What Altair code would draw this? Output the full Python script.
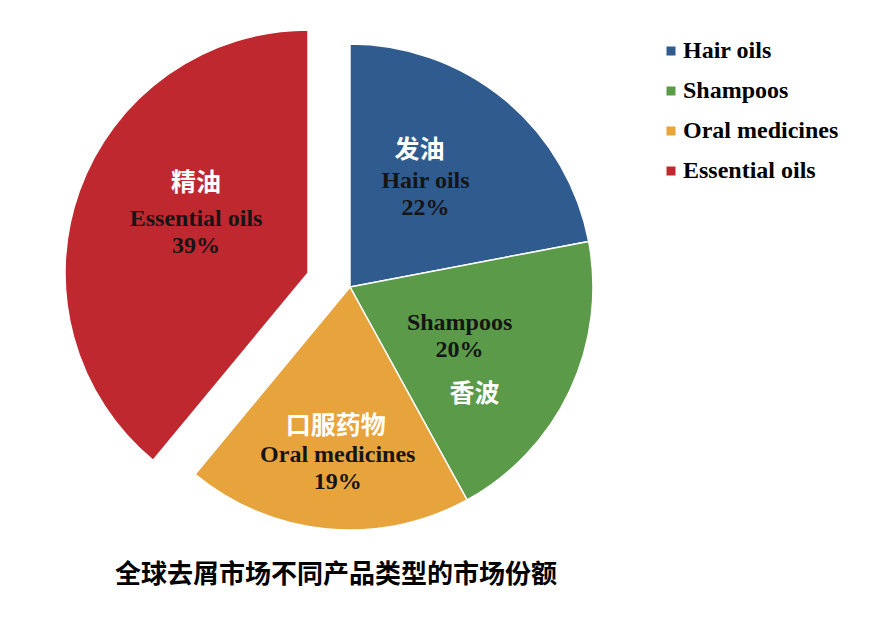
import math
import altair as alt
import pandas as pd

# ---- data ----
categories = ["Hair oils", "Shampoos", "Oral medicines", "Essential oils"]
chinese = ["发油", "香波", "口服药物", "精油"]
shares = [22, 20, 19, 39]
colors = ["#2F5B8F", "#5A9A48", "#E8A43C", "#C0282F"]
title_text = "全球去屑市场不同产品类型的市场份额"

df = pd.DataFrame({
    "category": categories,
    "zh": chinese,
    "share": shares,
    "order": list(range(len(categories))),
})

# ---- layout / style (kept apart from the data) ----
W, H = 684, 558
PIE_R = 243
EXPLODE = {"Essential oils": (-42, -14)}
EN_R = {"Hair oils": 120, "Shampoos": 120, "Oral medicines": 183, "Essential oils": 120}
EN_SHIFT = {"Hair oils": (-1, -14), "Shampoos": (1, -15),
            "Oral medicines": (5, -14), "Essential oils": (1, -13)}
ZH_SHIFT = {"Hair oils": (-7, -45), "Shampoos": (16, 56),
            "Oral medicines": (3, -43), "Essential oils": (1, -49)}
SERIF = "Liberation Serif"
CJK = "Noto Sans CJK SC"

theta_scale = alt.Scale(domain=[0, 100], range=[0, 2 * math.pi])
color_scale = alt.Scale(domain=categories, range=colors)

legend = alt.Legend(
    title=None, orient="none", legendX=651, legendY=31,
    symbolType="square", symbolSize=81, symbolStrokeWidth=0,
    labelFont=SERIF, labelFontSize=24, labelFontWeight="bold",
    labelColor="black", rowPadding=16, labelOffset=0, padding=0,
)

base = (
    alt.Chart(df)
    .transform_window(cum="sum(share)", sort=[alt.SortField("order")])
    .transform_calculate(
        start="datum.cum - datum.share",
        mid="datum.cum - datum.share / 2",
        en="[datum.category, datum.share + '%']",
    )
)

layers = []
for cat in categories:
    xo, yo = EXPLODE.get(cat, (0, 0))
    sub = base.transform_filter(alt.datum.category == cat)
    arc = sub.mark_arc(radius=PIE_R, stroke="white", strokeWidth=1.5,
                       xOffset=xo, yOffset=yo).encode(
        theta=alt.Theta("start:Q", scale=theta_scale, stack=False),
        theta2=alt.Theta2("cum:Q"),
        color=alt.Color("category:N", scale=color_scale, legend=legend),
    )
    layers.append(arc)

for cat in categories:
    xo, yo = EXPLODE.get(cat, (0, 0))
    sub = base.transform_filter(alt.datum.category == cat)
    edx, edy = EN_SHIFT[cat]
    en = sub.mark_text(
        radius=EN_R[cat], xOffset=xo, yOffset=yo, dx=edx, dy=edy,
        font=SERIF, fontSize=24, fontWeight="bold", color="#151515",
        lineHeight=27, align="center", baseline="middle",
    ).encode(
        theta=alt.Theta("mid:Q", scale=theta_scale, stack=False),
        text="en:N",
    )
    zdx, zdy = ZH_SHIFT[cat]
    zh = sub.mark_text(
        radius=EN_R[cat], xOffset=xo, yOffset=yo, dx=zdx, dy=zdy,
        font=CJK, fontSize=25, fontWeight="bold", color="white",
        align="center", baseline="middle",
    ).encode(
        theta=alt.Theta("mid:Q", scale=theta_scale, stack=False),
        text="zh:N",
    )
    layers += [en, zh]

chart = (
    alt.layer(*layers)
    .properties(
        width=W, height=H,
        padding={"left": 0, "top": 0, "right": 863 - W, "bottom": 611 - H},
        autosize=alt.AutoSizeParams(type="none"),
        title=alt.TitleParams(
            text=title_text, orient="bottom", anchor="middle",
            font=CJK, fontSize=26, fontWeight="bold", color="black",
            dx=-14, offset=9, baseline="middle",
        ),
    )
    .configure_view(strokeWidth=0)
)

chart.save("out.html", embed_options={"renderer": "svg", "actions": False})
